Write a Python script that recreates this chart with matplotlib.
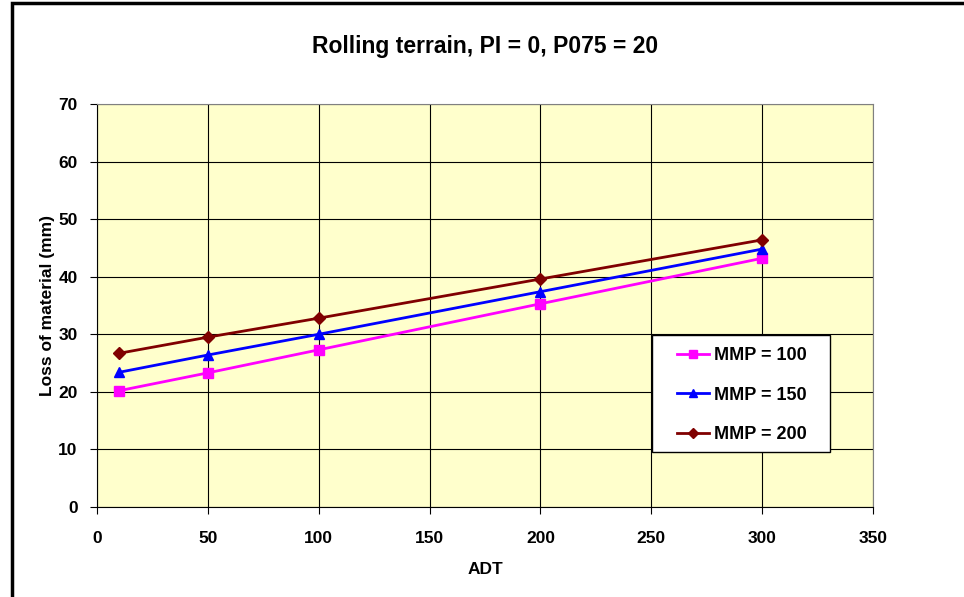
import matplotlib.pyplot as plt
from matplotlib.patches import Rectangle

adt = [10, 50, 100, 200, 300]
mmp100 = [20.2, 23.3, 27.3, 35.3, 43.2]
mmp150 = [23.4, 26.4, 30.0, 37.4, 44.8]
mmp200 = [26.7, 29.5, 32.8, 39.6, 46.4]

plt.rcParams['font.family'] = ['Liberation Sans', 'DejaVu Sans']
plt.rcParams['font.weight'] = 'bold'

fig = plt.figure(figsize=(9.64, 5.97), dpi=100)
W, H = 964, 597
# plot area in pixels: x 97..873, y 104..507
ax = fig.add_axes([97 / W, 1 - 507 / H, (873 - 97) / W, (507 - 104) / H])
ax.set_facecolor('#FFFFCC')

ax.plot(adt, mmp100, '-s', color='#FF00FF', lw=2, markersize=7.5, label='MMP = 100')
ax.plot(adt, mmp150, '-^', color='#0000FF', lw=2, markersize=7.5, label='MMP = 150')
ax.plot(adt, mmp200, '-D', color='#800000', lw=2, markersize=6, label='MMP = 200')

ax.set_xlim(0, 350)
ax.set_ylim(0, 70)
ax.set_xticks(range(0, 351, 50))
ax.set_yticks(range(0, 71, 10))
ax.grid(True, color='black', lw=0.8)
ax.set_axisbelow(True)
for s in ax.spines.values():
    s.set_color('#808080')
ax.spines['left'].set_color('black')
ax.spines['bottom'].set_color('black')
ax.tick_params(labelsize=12.5, direction='out', length=5, pad=9)
ax.tick_params(axis='x', pad=12)
for lbl in ax.get_xticklabels() + ax.get_yticklabels():
    lbl.set_fontweight('bold')

ax.set_xlabel('ADT', fontsize=12.5, fontweight='bold', labelpad=12)
ax.set_ylabel('Loss of material (mm)', fontsize=12.5, fontweight='bold', labelpad=2)
fig.text((97 + 873) / 2 / W, 1 - 46 / H, 'Rolling terrain, PI = 0, P075 = 20',
         ha='center', va='center', fontsize=16.5, fontweight='bold')

# legend box drawn separately so its padding matches
def ax_x(px):
    return (px - 97) / 776

def ax_y(py):
    return 1 - (py - 104) / 403

ax.add_patch(Rectangle((ax_x(652), ax_y(452)), ax_x(830) - ax_x(652), ax_y(335) - ax_y(452),
                       transform=ax.transAxes, facecolor='white', edgecolor='black',
                       lw=1.0, zorder=4))
leg = ax.legend(loc='upper left', bbox_to_anchor=(ax_x(677), ax_y(347)),
                frameon=False, fontsize=13, labelspacing=1.25, handlelength=1.75,
                borderpad=0, handletextpad=0.3, borderaxespad=0, markerscale=0.85)
for t in leg.get_texts():
    t.set_fontweight('bold')

# outer chart frame (left and top visible)
fig.patches.append(Rectangle((12 / W, -0.1), 1.1, 1 - 3 / H + 0.1, transform=fig.transFigure,
                             fill=False, edgecolor='black', lw=2.5))

fig.savefig('out.png', dpi=100)
